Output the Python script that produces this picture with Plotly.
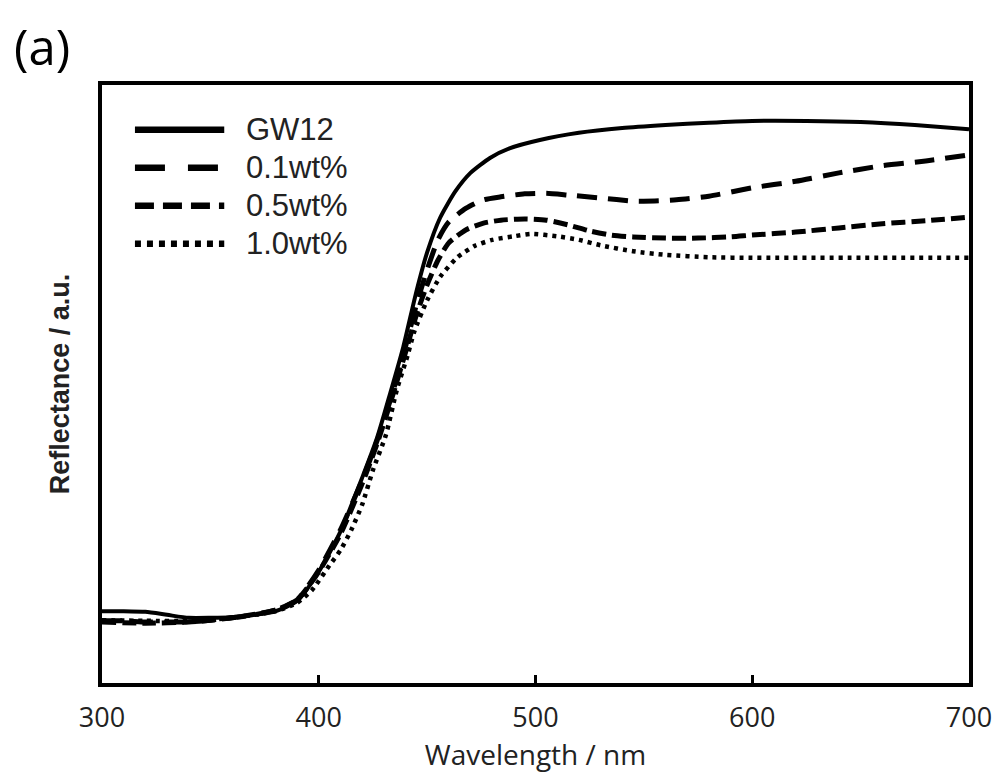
import plotly.graph_objects as go

# ---- data (arbitrary units 0-100) ----
wl_gw12 = [300, 310, 320, 330, 340, 350, 360, 370, 380, 390, 400, 410, 420, 427, 433, 439, 445,
           450, 456, 463, 470, 479, 488, 502, 520, 540, 560, 580, 600, 625, 650, 675, 700]
r_gw12 = [12.0, 12.0, 11.9, 11.4, 10.9, 10.9, 11.0, 11.4, 12.0, 13.7, 18.6, 25.3, 34.3, 41.1, 48.5,
          56.2, 65.4, 72.0, 77.8, 82.2, 85.3, 87.8, 89.4, 90.8, 92.0, 92.8, 93.3, 93.7, 94.0, 94.0,
          93.8, 93.3, 92.6]

wl_01 = [300, 310, 320, 330, 340, 350, 360, 370, 380, 390, 400, 410, 420, 427, 433, 439, 445, 450,
         455, 460, 468, 476, 484, 495, 505, 515, 530, 545, 555, 565, 580, 600, 620, 640, 660, 680, 700]
r_01 = [10.4, 10.4, 10.2, 10.2, 10.2, 10.5, 10.9, 11.4, 12.2, 13.9, 18.9, 25.6, 33.9, 40.6, 47.3,
        54.8, 63.2, 69.1, 74.1, 77.1, 79.4, 80.8, 81.3, 81.8, 81.9, 81.6, 81.1, 80.6, 80.6, 80.8,
        81.4, 82.8, 83.9, 85.3, 86.5, 87.3, 88.3]

wl_05 = [300, 320, 340, 360, 380, 390, 400, 410, 420, 427, 433, 439, 445, 450, 455, 460, 468, 476,
         484, 495, 505, 515, 525, 535, 545, 560, 575, 590, 600, 620, 640, 660, 680, 700]
r_05 = [10.2, 10.0, 10.2, 10.9, 12.2, 13.9, 18.6, 24.9, 33.3, 40.1, 46.8, 54.0, 61.5, 66.6, 70.7,
        73.6, 75.8, 76.9, 77.4, 77.6, 77.4, 76.6, 75.6, 74.9, 74.6, 74.4, 74.4, 74.6, 74.9, 75.4,
        76.1, 76.8, 77.3, 77.9]

wl_10 = [300, 320, 340, 360, 380, 390, 397, 405, 410, 415, 420, 425, 431, 436, 441, 444, 450, 456,
         464, 472, 480, 490, 498, 510, 520, 530, 545, 560, 580, 600, 650, 700]
r_10 = [10.5, 10.4, 10.4, 10.9, 12.0, 13.4, 15.6, 19.7, 22.2, 25.6, 29.8, 35.6, 41.5, 49.0, 54.8,
        58.7, 64.0, 67.9, 71.2, 73.1, 74.1, 74.7, 75.1, 74.7, 74.1, 73.2, 72.2, 71.6, 71.2, 71.1,
        71.1, 71.1]

names = ["GW12", "0.1wt%", "0.5wt%", "1.0wt%"]
x_ticks = [300, 400, 500, 600, 700]

series = [(wl_gw12, r_gw12), (wl_01, r_01), (wl_05, r_05), (wl_10, r_10)]
plot_dash = ["solid", "20px,11px", "14px,6px", "4px,5px"]
plot_width = [4, 5, 5, 4.5]
leg_dash = ["solid", "30px,23px", "19px,9px", "6px,6px"]

fig = go.Figure()
for (x, y), nm, d, w in zip(series, names, plot_dash, plot_width):
    fig.add_trace(go.Scatter(x=x, y=y, mode="lines", name=nm, showlegend=False,
                             line=dict(color="black", width=w, dash=d, shape="spline", smoothing=0.6)))

# custom legend (long samples like the original)
leg_top = 0.925
leg_step = 0.0635
for i, (nm, d) in enumerate(zip(names, leg_dash)):
    yy = leg_top - i * leg_step
    fig.add_shape(type="line", xref="paper", yref="paper", x0=0.038, x1=0.141, y0=yy, y1=yy,
                  line=dict(color="black", width=6.5, dash=d))
    fig.add_annotation(xref="paper", yref="paper", x=0.164, y=yy, text=nm, showarrow=False,
                       xanchor="left", yanchor="middle",
                       font=dict(family="Liberation Sans, Arial", size=31, color="#222"))

fig.add_annotation(xref="paper", yref="paper", x=-0.104, y=1.066, text="(a)", showarrow=False,
                   xanchor="left", yanchor="middle",
                   font=dict(family="Open Sans", size=49, color="black"))

fig.update_layout(
    width=999, height=778,
    margin=dict(l=102, r=30, t=85, b=95, autoexpand=False),
    paper_bgcolor="white", plot_bgcolor="white",
    xaxis=dict(range=[300, 700], tickvals=x_ticks, ticks="inside", ticklen=8, tickwidth=3,
               tickcolor="black", showline=True, linewidth=4, linecolor="black", mirror=True,
               showgrid=False, zeroline=False, ticklabelstandoff=8, automargin=False,
               tickfont=dict(family="Open Sans", size=27, color="#222"),
               title=dict(text="Wavelength / nm", standoff=2,
                          font=dict(family="Open Sans", size=28, color="#222"))),
    yaxis=dict(range=[0, 100], showticklabels=False, ticks="", showline=True, linewidth=4,
               linecolor="black", mirror=True, showgrid=False, zeroline=False, automargin=False,
               title=dict(text="<b>Reflectance / a.u.</b>", standoff=22,
                          font=dict(family="Liberation Sans, Arial", size=27, color="#222"))),
)

fig.write_html("out.html")
